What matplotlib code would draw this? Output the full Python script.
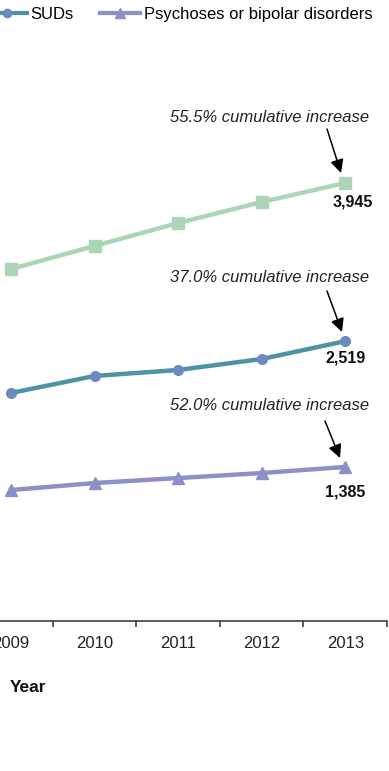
import numpy as np
import matplotlib.pyplot as plt
from matplotlib.lines import Line2D

plt.rcParams['font.family'] = ['Liberation Sans', 'DejaVu Sans']

# data (visible part: 2009-2013)
years = [2009, 2010, 2011, 2012, 2013]
top_series = [3169, 3377, 3584, 3773, 3945]
suds = [2052, 2205, 2259, 2358, 2519]
psychoses = [1177, 1240, 1285, 1330, 1385]

labels = ['SUDs', 'Psychoses or bipolar disorders']
end_labels = ['3,945', '2,519', '1,385']
notes = ['55.5% cumulative increase', '37.0% cumulative increase',
         '52.0% cumulative increase']

green = '#abd5b6'
teal = '#4c93a6'
blue_mk = '#6b8bbf'
purple = '#8d90c7'

W, H = 389, 771
fig = plt.figure(figsize=(W / 100, H / 100), dpi=100)
ax = fig.add_axes([0, (H - 620.6) / H, 387 / W, (620.6 - 66) / H])

x = np.array(years)
ax.plot(x, top_series, color=green, lw=3.2, marker='s', ms=8, mfc=green, mec=green)
ax.plot(x, suds, color=teal, lw=3.2, marker='o', ms=7, mfc=blue_mk, mec=blue_mk)
ax.plot(x, psychoses, color=purple, lw=3.2, marker='^', ms=8, mfc=purple, mec=purple)

ax.set_xlim(years[0] - 11 / 83.4, years[-1] + 0.5)
ax.set_ylim(0, 5000 * (620.6 - 66) / (5000 / 9.014))

for side in ['top', 'left', 'right']:
    ax.spines[side].set_visible(False)
ax.spines['bottom'].set_color('#404040')
ax.spines['bottom'].set_linewidth(1.2)
ax.set_yticks([])

ax.set_xticks([y + 0.5 for y in years[:-1]] + [years[-1] + 0.5])
ax.set_xticklabels([])
ax.tick_params(axis='x', which='major', length=4, width=1.2, color='#404040')
ax.set_xticks(years, minor=True)
ax.set_xticklabels([str(y) for y in years], minor=True)
ax.tick_params(axis='x', which='minor', length=0, pad=11, labelsize=12,
               labelcolor='#222222')

# annotations at the 2013 points
ends = [top_series[-1], suds[-1], psychoses[-1]]
note_y = [117, 277, 406]
arrow_start = [(327, 129), (327, 291), (325, 421)]
arrow_end = [(341, 173), (342, 332), (340, 458)]
lab_pos = [(353, 202), (346, 358), (345, 492)]

def fig_xy(px, py):
    return px / W, 1 - py / H

for i in range(3):
    fig.text(*fig_xy(270, note_y[i]), notes[i], ha='center', va='center',
             fontsize=12, style='italic', color='#222222')
    ax.annotate('', xy=fig_xy(*arrow_end[i]), xycoords='figure fraction',
                xytext=fig_xy(*arrow_start[i]), textcoords='figure fraction',
                arrowprops=dict(arrowstyle='-|>', color='black', lw=1.1,
                                mutation_scale=20, shrinkA=0, shrinkB=0))
    fig.text(*fig_xy(*lab_pos[i]), end_labels[i], ha='center', va='center',
             fontsize=11.5, fontweight='bold', color='#111111')

fig.text(10 / W, 1 - 688 / H, 'Year', ha='left', va='center', fontsize=12.5,
         fontweight='bold', color='#111111')

handles = [
    Line2D([], [], color=teal, lw=3, marker='o', ms=6, mfc=blue_mk, mec=blue_mk),
    Line2D([], [], color=purple, lw=3, marker='^', ms=7, mfc=purple, mec=purple),
]
fig.legend(handles, labels, ncol=2, loc='upper left',
           bbox_to_anchor=(-13 / W, 1 - 7 / H), frameon=False, fontsize=12,
           handlelength=2.4, handletextpad=0.2, columnspacing=1.6,
           borderpad=0, borderaxespad=0)

fig.savefig('out.png', dpi=100)
